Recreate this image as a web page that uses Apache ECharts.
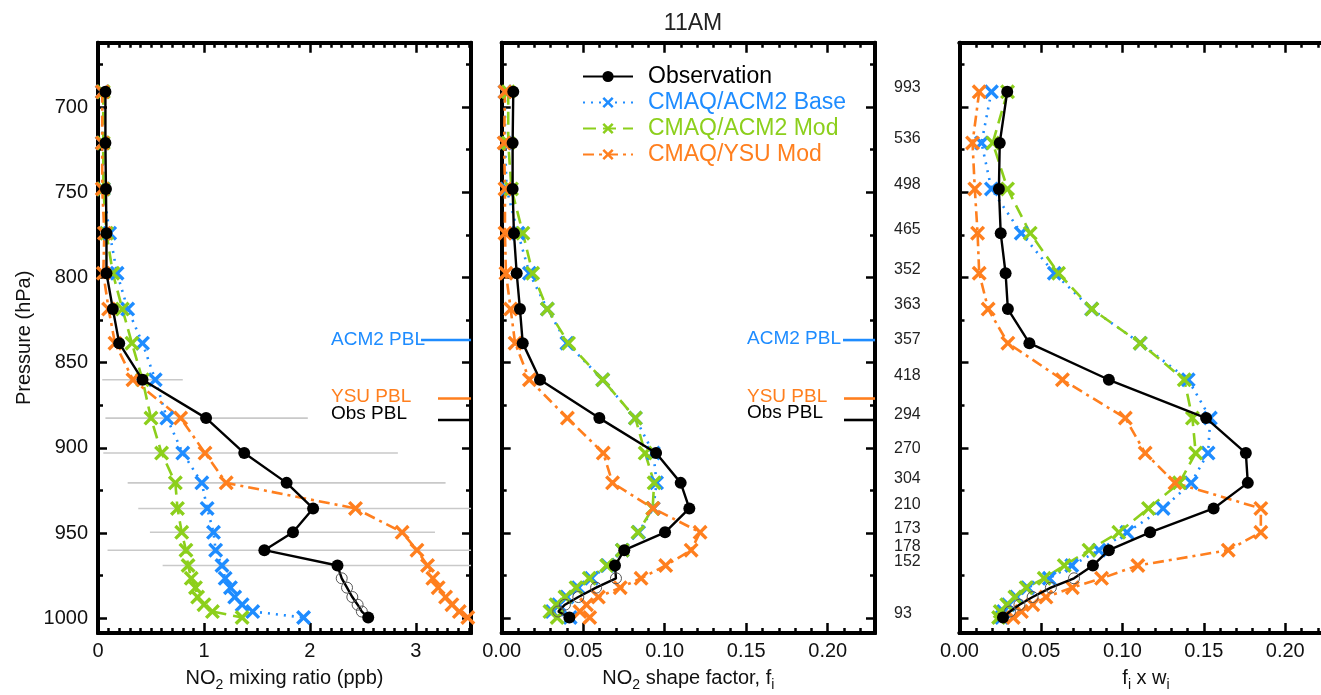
<!DOCTYPE html>
<html>
<head>
<meta charset="utf-8">
<script src="https://cdn.jsdelivr.net/npm/echarts@6/dist/echarts.min.js"></script>
<style>
  html, body { margin: 0; padding: 0; background: #fff; }
  #chart { width: 1321px; height: 695px; }
</style>
</head>
<body>
<div id="chart"></div>
<script>
// Pressure levels (hPa) of the profile points, top to surface
const levels = [691, 721, 748, 774, 797.5, 818.5, 838.5, 860, 882.5, 903, 920.5, 935.5, 949.5, 960, 969, 976.5, 982, 987.5, 992, 996, 999.5];
// Observed levels filled in below the lowest measurement (hollow markers)
const hollowLevels = [976.5, 982, 987.5, 992, 996];

// Panel 1: NO2 mixing ratio (ppb)
const mixObs  = [0.07, 0.07, 0.075, 0.08, 0.08, 0.14, 0.20, 0.42, 1.02, 1.38, 1.78, 2.03, 1.84, 1.57, 2.26, 2.30, 2.35, 2.40, 2.45, 2.49, 2.55];
const mixBase = [0.04, 0.04, 0.05, 0.11, 0.18, 0.28, 0.42, 0.54, 0.65, 0.80, 0.98, 1.03, 1.09, 1.11, 1.17, 1.20, 1.25, 1.29, 1.36, 1.46, 1.94];
const mixMod  = [0.05, 0.05, 0.05, 0.08, 0.14, 0.23, 0.32, 0.42, 0.50, 0.60, 0.73, 0.75, 0.79, 0.83, 0.85, 0.88, 0.92, 0.94, 1.00, 1.08, 1.36];
const mixYsu  = [0.04, 0.04, 0.04, 0.06, 0.05, 0.10, 0.16, 0.33, 0.78, 1.01, 1.21, 2.43, 2.87, 3.01, 3.11, 3.16, 3.21, 3.28, 3.34, 3.41, 3.49];

// Spread of the observed mixing ratio at each level (ppb)
const spreadLevels = [860, 882.5, 903, 920.5, 935.5, 949.5, 960, 969];
const spreadLow    = [0.04, 0.07, 0.05, 0.28, 0.38, 0.49, 0.09, 0.61];
const spreadHigh   = [0.80, 1.98, 2.83, 3.28, 3.60, 3.18, 3.60, 3.60];

// Panel 2: NO2 shape factor f_i
const shpObs  = [0.0071, 0.0067, 0.0067, 0.0075, 0.0092, 0.0112, 0.0129, 0.0235, 0.0599, 0.0947, 0.1098, 0.1151, 0.1002, 0.0752, 0.0695, 0.0701, 0.0579, 0.0470, 0.0388, 0.0347, 0.0415];
const shpBase = [0.002, 0.002, 0.003, 0.010, 0.017, 0.028, 0.040, 0.062, 0.082, 0.093, 0.095, 0.093, 0.084, 0.074, 0.065, 0.055, 0.047, 0.040, 0.035, 0.031, 0.042];
const shpMod  = [0.004, 0.004, 0.006, 0.013, 0.019, 0.028, 0.041, 0.062, 0.082, 0.088, 0.0935, 0.0926, 0.0836, 0.074, 0.0644, 0.0537, 0.0456, 0.0388, 0.0333, 0.0296, 0.034];
const shpYsu  = [0.002, 0.0015, 0.002, 0.002, 0.0026, 0.0055, 0.0082, 0.017, 0.0403, 0.0623, 0.068, 0.0929, 0.1217, 0.1162, 0.1006, 0.0855, 0.0727, 0.0593, 0.052, 0.048, 0.054];

// Panel 3: f_i x w_i
const fwObs  = [0.0293, 0.0247, 0.0242, 0.0253, 0.0283, 0.0297, 0.0429, 0.0917, 0.1514, 0.1758, 0.177, 0.156, 0.117, 0.0917, 0.0819, 0.0703, 0.0561, 0.0449, 0.0368, 0.031, 0.0267];
const fwBase = [0.0196, 0.0135, 0.0196, 0.0379, 0.0582, 0.0811, 0.111, 0.1404, 0.154, 0.1526, 0.1422, 0.125, 0.1028, 0.0856, 0.0689, 0.0551, 0.0419, 0.035, 0.030, 0.027, 0.026];
const fwMod  = [0.0295, 0.0204, 0.0295, 0.0434, 0.0608, 0.0813, 0.1109, 0.138, 0.143, 0.145, 0.135, 0.116, 0.0978, 0.0795, 0.0643, 0.052, 0.0409, 0.034, 0.029, 0.025, 0.024];
const fwYsu  = [0.0121, 0.008, 0.0094, 0.0111, 0.0121, 0.0176, 0.0297, 0.0632, 0.1018, 0.114, 0.1323, 0.185, 0.185, 0.165, 0.1095, 0.0872, 0.0693, 0.0531, 0.045, 0.038, 0.033];

// Weights w_i printed beside the shape-factor panel
const weightLevels = [691, 721, 748, 774, 797.5, 818.5, 838.5, 860, 882.5, 903, 920.5, 935.5, 949.5, 960, 969, 999.5];
const weightText   = ['993', '536', '498', '465', '352', '363', '357', '418', '294', '270', '304', '210', '173', '178', '152', '93'];

// Boundary-layer heights (hPa)
const pblNames  = ['ACM2 PBL', 'YSU PBL', 'Obs PBL'];
const pblLevels = [836.7, 871, 883.6];

// Series names and axis ticks
const seriesNames = ['Observation', 'CMAQ/ACM2 Base', 'CMAQ/ACM2 Mod', 'CMAQ/YSU Mod'];
const pMajor = [700, 750, 800, 850, 900, 950, 1000];
const pMinor = [675, 725, 775, 825, 875, 925, 975];
const mixMajor = [0, 1, 2, 3];
const mixMinor = [0.1,0.2,0.3,0.4,0.5,0.6,0.7,0.8,0.9,1.1,1.2,1.3,1.4,1.5,1.6,1.7,1.8,1.9,2.1,2.2,2.3,2.4,2.5,2.6,2.7,2.8,2.9,3.1,3.2,3.3,3.4,3.5];
const fMajor = [0, 0.05, 0.10, 0.15, 0.20];
const fMinor = [0.01,0.02,0.03,0.04,0.06,0.07,0.08,0.09,0.11,0.12,0.13,0.14,0.16,0.17,0.18,0.19,0.21,0.22];

// ---------- styling ----------
const FONT = '"Liberation Sans", Arial, Helvetica, sans-serif';
const COLORS = { 'Observation': '#000000', 'CMAQ/ACM2 Base': '#1E8CFF', 'CMAQ/ACM2 Mod': '#8CCF1C', 'CMAQ/YSU Mod': '#FF7F1E' };
const PBL_COLORS = ['#1E8CFF', '#FF7F1E', '#000000'];
const DASH = { 'CMAQ/ACM2 Base': [2, 6], 'CMAQ/ACM2 Mod': [13, 7], 'CMAQ/YSU Mod': [11, 5, 3, 5] };
const XMARK = 'path://M0,1.6L1.6,0L5,3.4L8.4,0L10,1.6L6.6,5L10,8.4L8.4,10L5,6.6L1.6,10L0,8.4L3.4,5Z';

const P_MIN = 662.2, P_MAX = 1008.6;
const panels = [
  { left: 98,    width: 373, xMax: 3.52,  major: mixMajor, minor: mixMinor, fmt: v => String(v),
    name: 'NO{sub|2} mixing ratio (ppb)', yLabels: true },
  { left: 501.7, width: 373.3, xMax: 0.229, major: fMajor, minor: fMinor, fmt: v => v.toFixed(2),
    name: 'NO{sub|2} shape factor, f{sub|i}', yLabels: false },
  { left: 959.5, width: 373, xMax: 0.229, major: fMajor, minor: fMinor, fmt: v => v.toFixed(2),
    name: 'f{sub|i} x w{sub|i}', yLabels: false }
];

const lineAxis = { show: true, onZero: false, lineStyle: { color: '#000', width: 4 } };
const tick = (vals, len) => ({ show: true, inside: true, length: len, customValues: vals, lineStyle: { color: '#000', width: 2.5 } });
const nameRich = { sub: { fontSize: 14, fontFamily: FONT, color: '#111', padding: [14, 0, 0, 0] } };

const grid = [], xAxis = [], yAxis = [];
panels.forEach((pn, gi) => {
  grid.push({ left: pn.left, top: 42.7, width: pn.width, height: 590.3, outerBoundsMode: 'none', containLabel: false });
  const bx = { type: 'value', gridIndex: gi, min: 0, max: pn.xMax, splitLine: { show: false }, axisLine: lineAxis };
  xAxis.push(Object.assign({}, bx, {
    position: 'bottom', name: pn.name, nameLocation: 'middle', nameGap: 31,
    nameTextStyle: { fontSize: 20, fontFamily: FONT, color: '#111', rich: nameRich },
    axisTick: tick(pn.major, 10),
    axisLabel: { show: true, customValues: pn.major, formatter: pn.fmt, fontSize: 20, fontFamily: FONT, color: '#111', margin: 8 }
  }));
  xAxis.push(Object.assign({}, bx, { position: 'bottom', axisTick: tick(pn.minor, 5), axisLabel: { show: false } }));
  xAxis.push(Object.assign({}, bx, { position: 'top', axisTick: tick(pn.major, 10), axisLabel: { show: false } }));
  xAxis.push(Object.assign({}, bx, { position: 'top', axisTick: tick(pn.minor, 5), axisLabel: { show: false } }));

  const by = { type: 'value', gridIndex: gi, min: P_MIN, max: P_MAX, inverse: true, splitLine: { show: false }, axisLine: lineAxis };
  yAxis.push(Object.assign({}, by, {
    position: 'left', axisTick: tick(pMajor, 9),
    axisLabel: { show: pn.yLabels, customValues: pMajor, formatter: v => String(v), fontSize: 20, fontFamily: FONT, color: '#111', margin: 10 },
    name: pn.yLabels ? 'Pressure (hPa)' : '', nameLocation: 'middle', nameGap: 64,
    nameTextStyle: { fontSize: 20, fontFamily: FONT, color: '#111' }
  }));
  yAxis.push(Object.assign({}, by, { position: 'left', axisTick: tick(pMinor, 5), axisLabel: { show: false } }));
  yAxis.push(Object.assign({}, by, { position: 'right', axisTick: tick(pMajor, 9), axisLabel: { show: false } }));
  yAxis.push(Object.assign({}, by, { position: 'right', axisTick: tick(pMinor, 5), axisLabel: { show: false } }));
});

// one profile line in one panel
function profile(gi, name, vals) {
  const isObs = name === 'Observation';
  const color = COLORS[name];
  const data = vals.map((v, i) => {
    if (isObs && hollowLevels.indexOf(levels[i]) >= 0) {
      return { value: [v, levels[i]], symbol: 'circle', symbolSize: 11,
               itemStyle: { color: 'rgba(0,0,0,0)', borderColor: '#555', borderWidth: 1 } };
    }
    return [v, levels[i]];
  });
  return {
    type: 'line', name: name, xAxisIndex: gi * 4, yAxisIndex: gi * 4, data: data,
    symbol: isObs ? 'circle' : XMARK, symbolSize: isObs ? 12 : 15, showAllSymbol: true,
    itemStyle: { color: color },
    lineStyle: { color: color, width: isObs ? 2.4 : 2.6, type: isObs ? 'solid' : DASH[name] },
    z: isObs ? 6 : 4, animation: false, clip: false
  };
}

const series = [];
const panelVals = [
  [mixObs, mixBase, mixMod, mixYsu],
  [shpObs, shpBase, shpMod, shpYsu],
  [fwObs, fwBase, fwMod, fwYsu]
];
panelVals.forEach((vals, gi) => {
  [1, 2, 3, 0].forEach(k => series.push(profile(gi, seriesNames[k], vals[k])));
});

// horizontal spread bars behind the mixing-ratio profiles
series.push({
  type: 'custom', xAxisIndex: 0, yAxisIndex: 0, z: 1, clip: true, silent: true, animation: false,
  data: spreadLevels.map((p, i) => [spreadLow[i], spreadHigh[i], p]),
  encode: { x: [0, 1], y: 2 },
  renderItem: (params, api) => {
    const a = api.coord([api.value(0), api.value(2)]);
    const b = api.coord([api.value(1), api.value(2)]);
    return { type: 'line', shape: { x1: a[0], y1: a[1], x2: b[0], y2: b[1] },
             style: { stroke: '#c9c9c9', lineWidth: 1.6 } };
  }
});

// boundary-layer height markers on the right edge of panels 1 and 2
const pblLayout = [
  { textLeft: 140, lineLen: [50, 33, 33], textDy: [0, -2, -6] },
  { textLeft: 128, lineLen: [32, 31, 31], textDy: [-1, -2, -7] }
];
[0, 1].forEach(gi => {
  const lay = pblLayout[gi];
  const xMax = panels[gi].xMax;
  series.push({
    type: 'custom', xAxisIndex: gi * 4, yAxisIndex: gi * 4, z: 7, silent: true, animation: false,
    data: pblLevels.map((p, i) => [p, i]),
    encode: { y: 0 },
    renderItem: (params, api) => {
      const i = api.value(1);
      const pt = api.coord([xMax, api.value(0)]);
      const xr = pt[0], y = pt[1];
      return { type: 'group', children: [
        { type: 'line', shape: { x1: xr - lay.lineLen[i], y1: y, x2: xr, y2: y },
          style: { stroke: PBL_COLORS[i], lineWidth: 2.6 } },
        { type: 'text', style: { text: pblNames[i], x: xr - lay.textLeft, y: y + lay.textDy[i],
          fill: PBL_COLORS[i], font: '19px ' + FONT, align: 'left', verticalAlign: 'middle' } }
      ] };
    }
  });
});

// weights printed to the right of panel 2
series.push({
  type: 'custom', xAxisIndex: 4, yAxisIndex: 4, z: 7, silent: true, animation: false,
  data: weightLevels.map((p, i) => [p, i]),
  encode: { y: 0 },
  renderItem: (params, api) => {
    const pt = api.coord([panels[1].xMax, api.value(0)]);
    return { type: 'text', style: { text: weightText[api.value(1)], x: pt[0] + 19, y: pt[1] - 4,
      fill: '#222', font: '16px ' + FONT, align: 'left', verticalAlign: 'middle' } };
  }
});

const chart = echarts.init(document.getElementById('chart'), null, { renderer: 'canvas' });
chart.setOption({
  backgroundColor: '#fff',
  animation: false,
  title: { text: '11AM', left: 688, top: 7, textAlign: 'center',
           textStyle: { fontSize: 23, fontWeight: 'normal', fontFamily: FONT, color: '#222' } },
  legend: {
    orient: 'vertical', left: 577, top: 60, itemWidth: 50, itemHeight: 14, itemGap: 3,
    textStyle: { fontSize: 23, fontFamily: FONT, padding: [0, 0, 0, 10] },
    data: seriesNames.map(n => ({ name: n, textStyle: { color: COLORS[n] } }))
  },
  grid: grid, xAxis: xAxis, yAxis: yAxis, series: series
});
</script>
</body>
</html>
